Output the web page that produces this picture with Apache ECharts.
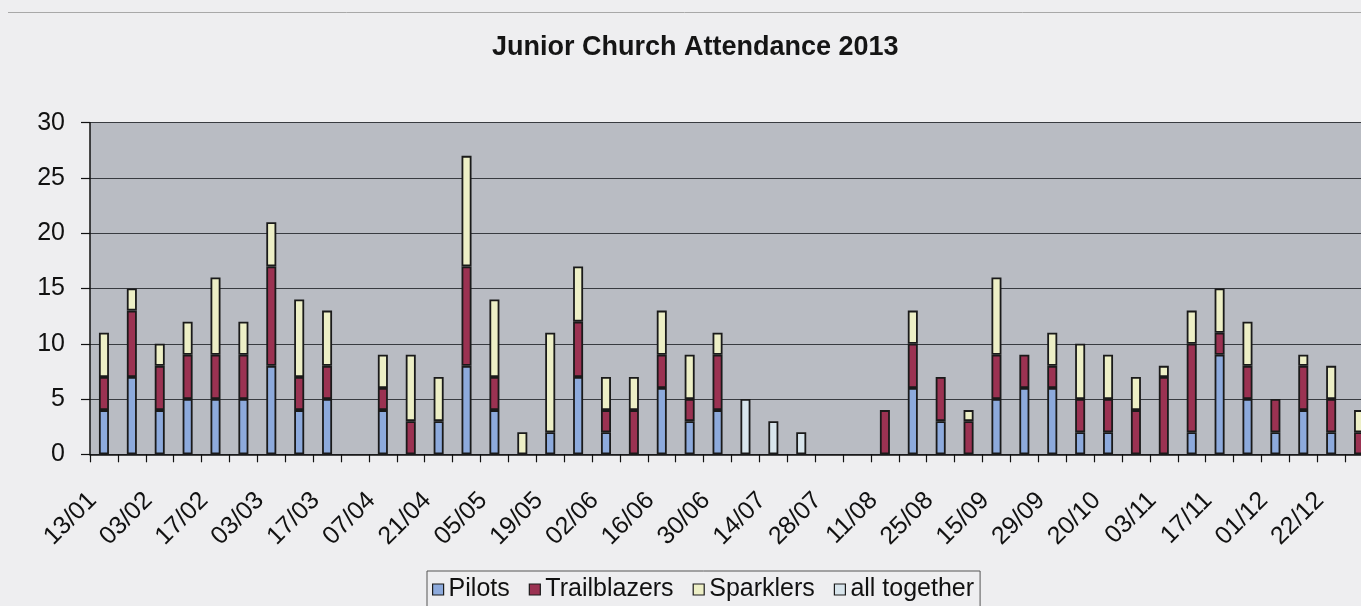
<!DOCTYPE html>
<html>
<head>
<meta charset="utf-8">
<script src="https://cdn.jsdelivr.net/npm/echarts@6/dist/echarts.min.js"></script>
<style>
html,body{margin:0;padding:0;background:#EEEEF0;}
#chart{width:1361px;height:606px;}
</style>
</head>
<body>
<div id="chart"></div>
<script>
var categories = ['13/01','20/01','03/02','10/02','17/02','24/02','03/03','10/03','17/03','24/03',
  '07/04','14/04','21/04','28/04','05/05','12/05','19/05','26/05','02/06','09/06',
  '16/06','23/06','30/06','07/07','14/07','21/07','28/07','04/08','11/08','18/08',
  '25/08','01/09','15/09','22/09','29/09','06/10','20/10','27/10','03/11','10/11',
  '17/11','24/11','01/12','08/12','22/12','29/12'];
var pilots       = [4,7,4,5,5,5,8,4,5,0, 4,0,3,8,4,0,2,7,2,0, 6,3,4,0,0,0,0,0,0,6, 3,0,5,6,6,2,2,0,0,2, 9,5,2,4,2,0];
var trailblazers = [3,6,4,4,4,4,9,3,3,0, 2,3,0,9,3,0,0,5,2,4, 3,2,5,0,0,0,0,0,4,4, 4,3,4,3,2,3,3,4,7,8, 2,3,3,4,3,2];
var sparklers    = [4,2,2,3,7,3,4,7,5,0, 3,6,4,10,7,2,9,5,3,3, 4,4,2,0,0,0,0,0,0,3, 0,1,7,0,3,5,4,3,1,3, 4,4,0,1,3,2];
var allTogether  = [0,0,0,0,0,0,0,0,0,0, 0,0,0,0,0,0,0,0,0,0, 0,0,0,5,3,2,0,0,0,0, 0,0,0,0,0,0,0,0,0,0, 0,0,0,0,0,0];
var yTicks = [0,5,10,15,20,25,30];

var FONT = "'Liberation Sans', Arial, sans-serif";
function z(arr){ return arr.map(function(v){ return v === 0 ? '-' : v; }); }
function mk(name, data, color){
  return {
    name: name, type: 'bar', stack: 'total', data: z(data),
    barWidth: 10,
    itemStyle: { color: color, borderColor: '#1a1a1a', borderWidth: 1.8 },
    emphasis: { disabled: true }
  };
}
var chart = echarts.init(document.getElementById('chart'), null, { renderer: 'canvas' });
chart.setOption({
  backgroundColor: '#EEEEF0',
  animation: false,
  title: {
    text: 'Junior Church Attendance 2013',
    left: 492, top: 34, padding: 0,
    textStyle: { fontFamily: FONT, fontSize: 27, fontWeight: 'bold', color: '#151515' }
  },
  graphic: [{
    type: 'line', silent: true,
    shape: { x1: 8, y1: 12.5, x2: 1361, y2: 12.5 },
    style: { stroke: '#a8a8a8', lineWidth: 1 }
  }],
  legend: {
    left: 427, top: 571,
    padding: [6, 6, 10, 5],
    borderColor: '#555', borderWidth: 1,
    icon: 'rect', itemWidth: 11, itemHeight: 11, itemGap: 19,
    textStyle: { fontFamily: FONT, fontSize: 25, color: '#111' },
    itemStyle: { borderColor: '#1a1a1a', borderWidth: 1.2 }
  },
  grid: { left: 90, top: 122.7, bottom: 151.7, width: 1283, outerBoundsMode: 'none', containLabel: false,
    backgroundColor: '#B9BCC3', show: true, borderWidth: 0 },
  xAxis: {
    type: 'category', data: categories, boundaryGap: true,
    axisLine: { lineStyle: { color: '#111', width: 1.5 } },
    axisTick: { show: true, interval: 0, length: 8, lineStyle: { color: '#111', width: 1.2 } },
    axisLabel: { interval: 1, rotate: 45, margin: 31, padding: [0, 16, 0, 0],
      fontFamily: FONT, fontSize: 25, color: '#111' },
    splitLine: { show: false }
  },
  yAxis: {
    type: 'value', min: yTicks[0], max: yTicks[yTicks.length - 1], interval: 5,
    axisLine: { show: true, lineStyle: { color: '#111', width: 1.5 } },
    axisTick: { show: true, length: 9, lineStyle: { color: '#111', width: 1.2 } },
    axisLabel: { margin: 25, fontFamily: FONT, fontSize: 25, color: '#111' },
    splitLine: { show: true, lineStyle: { color: '#383b40', width: 1.2 } }
  },
  series: [
    mk('Pilots', pilots, '#8DAADC'),
    mk('Trailblazers', trailblazers, '#9B3252'),
    mk('Sparklers', sparklers, '#EDEFC6'),
    mk('all together', allTogether, '#D8E5EC')
  ]
});
</script>
</body>
</html>
